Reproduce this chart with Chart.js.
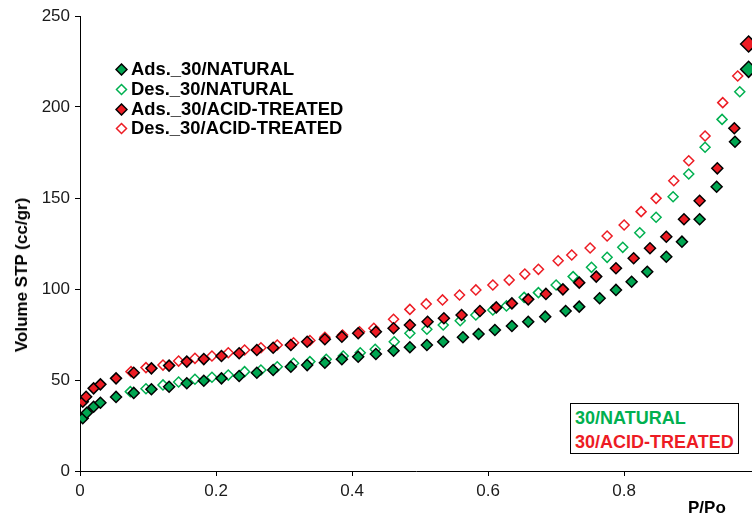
<!DOCTYPE html>
<html>
<head>
<meta charset="utf-8">
<script src="https://cdn.jsdelivr.net/npm/chart.js@4.4.1/dist/chart.umd.min.js"></script>
<style>
  body { margin: 0; background: #fff; font-family: "Liberation Sans", Arial, sans-serif; }
  #wrap { position: relative; width: 752px; height: 518px; overflow: hidden; }
  #chart { position: absolute; left: 0; top: 0; }
  .lbl { position: absolute; font-weight: bold; white-space: nowrap; color: #000; }
  .leg { position: absolute; left: 115px; height: 20px; line-height: 20px; font-size: 18.4px; font-weight: bold; white-space: nowrap; }
  .leg svg { position: absolute; left: 0; top: 4px; }
  .leg span { position: absolute; left: 16px; top: 0; }
  #box { position: absolute; left: 570px; top: 403px; width: 167px; height: 49px; border: 1.5px solid #000; background: #fff; }
  #box div { position: absolute; left: 4px; font-size: 18px; font-weight: bold; height: 24px; line-height: 24px; white-space: nowrap; }
</style>
</head>
<body>
<div id="wrap">
  <canvas id="chart" width="752" height="518"></canvas>
  <div class="lbl" id="ytitle" style="font-size:17px; left:22px; top:275px; transform: translate(-50%,-50%) rotate(-90deg);">Volume STP (cc/gr)</div>
  <div class="lbl" style="font-size:17px; left:688px; top:498px;">P/Po</div>
  <div class="leg" style="top:59px;"><svg width="13" height="13"><polygon points="6.5,1 12,6.5 6.5,12 1,6.5" fill="#00A651" stroke="#000" stroke-width="1.5"/></svg><span>Ads._30/NATURAL</span></div>
  <div class="leg" style="top:79px;"><svg width="13" height="13"><polygon points="6.5,1.5 11.5,6.5 6.5,11.5 1.5,6.5" fill="#fff" stroke="#00B050" stroke-width="1.5"/></svg><span>Des._30/NATURAL</span></div>
  <div class="leg" style="top:99px;"><svg width="13" height="13"><polygon points="6.5,1 12,6.5 6.5,12 1,6.5" fill="#ED1C24" stroke="#000" stroke-width="1.5"/></svg><span>Ads._30/ACID-TREATED</span></div>
  <div class="leg" style="top:118px;"><svg width="13" height="13"><polygon points="6.5,1.5 11.5,6.5 6.5,11.5 1.5,6.5" fill="#fff" stroke="#ED1C24" stroke-width="1.5"/></svg><span>Des._30/ACID-TREATED</span></div>
  <div id="box">
    <div style="top:2px; color:#00B050;">30/NATURAL</div>
    <div style="top:26px; color:#ED1C24;">30/ACID-TREATED</div>
  </div>
</div>
<script>
const adsNatP = [0.004,0.010,0.020,0.030,0.053,0.079,0.105,0.131,0.157,0.182,0.208,0.234,0.260,0.284,0.310,0.334,0.360,0.385,0.409,0.435,0.461,0.485,0.510,0.534,0.563,0.586,0.610,0.635,0.659,0.684,0.714,0.734,0.764,0.788,0.811,0.834,0.862,0.885,0.911,0.936,0.963,0.983];
const adsNatV = [29.0,32.0,35.3,37.5,40.7,42.9,44.9,46.3,48.2,49.6,50.9,52.2,54.0,55.5,57.3,58.2,59.5,61.4,62.8,64.3,66.1,68.0,69.2,71.0,73.5,75.3,77.5,79.7,82.0,84.8,87.9,90.3,94.9,99.5,104.0,109.5,117.7,126.0,138.3,156.2,180.9,220.7];

const desNatP = [0.074,0.097,0.122,0.145,0.169,0.194,0.218,0.242,0.266,0.290,0.314,0.338,0.362,0.387,0.412,0.434,0.462,0.485,0.510,0.534,0.559,0.582,0.607,0.627,0.653,0.674,0.700,0.725,0.752,0.775,0.798,0.823,0.847,0.872,0.895,0.919,0.944,0.970];
const desNatV = [43.6,45.2,47.3,48.9,50.4,51.5,52.7,54.6,55.5,57.3,59.2,60.1,61.4,63.2,65.0,66.9,71.0,75.7,77.9,80.2,82.6,85.7,88.5,90.7,95.4,98.0,102.2,106.8,111.9,117.4,122.9,130.9,139.4,150.7,163.2,177.9,193.2,208.4];

const adsAcidP = [0.004,0.009,0.020,0.030,0.053,0.079,0.105,0.131,0.157,0.182,0.208,0.234,0.260,0.284,0.310,0.334,0.360,0.385,0.409,0.435,0.461,0.485,0.511,0.535,0.561,0.588,0.612,0.635,0.659,0.685,0.710,0.734,0.759,0.788,0.814,0.838,0.862,0.888,0.911,0.937,0.962,0.983];
const adsAcidV = [38.1,40.8,45.4,47.6,50.9,54.0,56.4,57.9,60.1,61.5,63.2,64.7,66.5,67.7,69.2,71.0,72.4,73.8,75.7,76.5,78.4,80.2,82.0,83.9,85.7,87.9,89.9,92.1,94.3,97.3,99.8,103.5,106.8,111.4,116.9,122.4,128.7,138.3,148.5,166.3,188.3,234.6];

const desAcidP = [0.075,0.097,0.122,0.145,0.169,0.194,0.218,0.242,0.266,0.290,0.314,0.338,0.360,0.386,0.411,0.432,0.461,0.485,0.509,0.533,0.558,0.582,0.607,0.631,0.654,0.674,0.703,0.723,0.750,0.775,0.800,0.825,0.847,0.873,0.895,0.919,0.945,0.967];
const desAcidV = [54.6,56.8,58.2,60.4,61.9,63.2,65.0,66.5,67.7,69.2,70.5,71.7,73.5,74.7,76.5,78.4,83.4,88.8,91.8,94.0,96.7,99.5,102.2,104.9,108.2,110.8,115.5,118.7,122.5,129.1,135.2,142.5,149.8,159.5,170.5,184.1,202.4,217.0];

const seriesNames = ["Ads._30/NATURAL", "Des._30/NATURAL", "Ads._30/ACID-TREATED", "Des._30/ACID-TREATED"];
const yTicks = [0, 50, 100, 150, 200, 250];

const green = "#00A651";
const greenLine = "#00B050";
const red = "#ED1C24";

function pts(p, v) {
  return p.map((x, i) => ({ x: x, y: v[i] }));
}

// last adsorption point is drawn a bit bigger in the original
function bigLast(n) {
  return (ctx) => (ctx.dataIndex === n - 1 ? 8 : 5.5);
}

const ctx = document.getElementById("chart");

new Chart(ctx, {
  type: "scatter",
  data: {
    datasets: [
      {
        label: seriesNames[0],
        data: pts(adsNatP, adsNatV),
        pointStyle: "rectRot",
        pointRadius: bigLast(adsNatP.length),
        backgroundColor: green,
        borderColor: "#000",
        borderWidth: 1.5,
        order: 0,
      },
      {
        label: seriesNames[1],
        data: pts(desNatP, desNatV),
        pointStyle: "rectRot",
        pointRadius: 5,
        backgroundColor: "#fff",
        borderColor: greenLine,
        borderWidth: 1.5,
        order: 1,
      },
      {
        label: seriesNames[2],
        data: pts(adsAcidP, adsAcidV),
        pointStyle: "rectRot",
        pointRadius: bigLast(adsAcidP.length),
        backgroundColor: red,
        borderColor: "#000",
        borderWidth: 1.5,
        order: 0,
      },
      {
        label: seriesNames[3],
        data: pts(desAcidP, desAcidV),
        pointStyle: "rectRot",
        pointRadius: 5,
        backgroundColor: "#fff",
        borderColor: red,
        borderWidth: 1.5,
        order: 1,
      },
    ],
  },
  options: {
    responsive: false,
    animation: false,
    layout: { autoPadding: false, padding: { top: 16, right: 0, left: 0, bottom: 0 } },
    plugins: { legend: { display: false }, tooltip: { enabled: false } },
    scales: {
      x: {
        type: "linear",
        min: 0,
        max: 0.988,
        afterBuildTicks: (scale) => {
          scale.ticks = scale.ticks.filter((t) => Math.abs(t.value * 5 - Math.round(t.value * 5)) < 1e-6);
        },
        afterFit: (scale) => { scale.height = 47; },
        ticks: {
          stepSize: 0.2,
          padding: 5,
          color: "#1a1a1a",
          font: { family: "'Liberation Sans', Arial, sans-serif", size: 17 },
          callback: (v) => String(Math.round(v * 10) / 10),
        },
        grid: { display: true, drawOnChartArea: false, drawTicks: true, tickLength: 5, color: "#000" },
        border: { display: true, color: "#000", width: 1 },
      },
      y: {
        type: "linear",
        min: yTicks[0],
        max: yTicks[yTicks.length - 1],
        afterFit: (scale) => { scale.width = 80; },
        ticks: {
          stepSize: 50,
          padding: 5,
          color: "#1a1a1a",
          font: { family: "'Liberation Sans', Arial, sans-serif", size: 17 },
        },
        grid: { display: true, drawOnChartArea: false, drawTicks: true, tickLength: 5, color: "#000" },
        border: { display: true, color: "#000", width: 1 },
      },
    },
  },
});
</script>
</body>
</html>
